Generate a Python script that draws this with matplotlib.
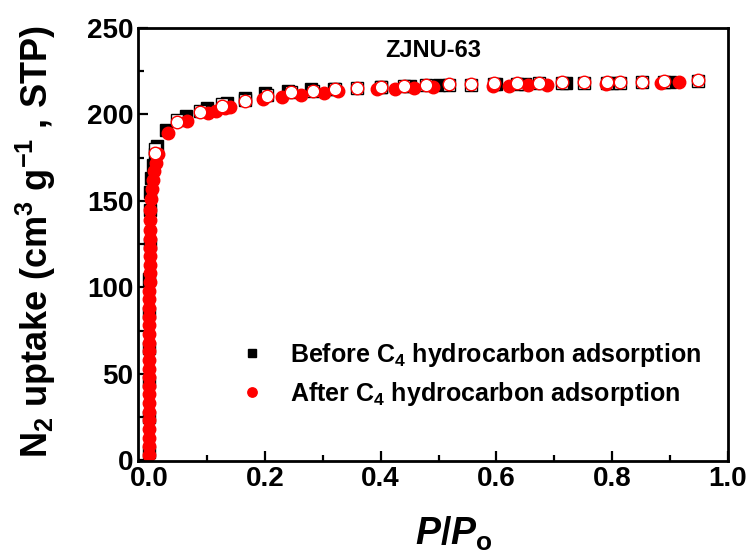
import matplotlib
matplotlib.use("Agg")
import matplotlib.pyplot as plt
from matplotlib.ticker import MultipleLocator

plt.rcParams["font.family"] = ["Liberation Sans", "DejaVu Sans"]
plt.rcParams["font.weight"] = "bold"
plt.rcParams["axes.labelweight"] = "bold"
plt.rcParams["mathtext.fontset"] = "custom"
plt.rcParams["mathtext.rm"] = "Liberation Sans:bold"
plt.rcParams["mathtext.it"] = "Liberation Sans:bold:italic"
plt.rcParams["mathtext.bf"] = "Liberation Sans:bold"

# N2 isotherms at 77 K, ZJNU-63 before / after C4 hydrocarbon adsorption
before_ads_p = [0.0003, 0.0004, 0.0005, 0.0006, 0.0007, 0.0008, 0.0009, 0.001,
                0.002, 0.004, 0.007, 0.010, 0.014, 0.030, 0.063, 0.100, 0.135,
                0.165, 0.200, 0.240, 0.280, 0.320, 0.400, 0.450, 0.500, 0.600,
                0.650, 0.720, 0.800, 0.900]
before_ads_n = [5, 25, 45, 65, 85, 105, 125, 145,
                155, 163, 171, 177, 182, 191, 199, 204, 206.5,
                209.5, 212.5, 213.5, 214.5, 215.0, 216.0, 216.5, 217.0, 217.5,
                217.8, 218.0, 218.3, 218.5]

before_des_p = [0.948, 0.890, 0.851, 0.813, 0.791, 0.752, 0.713, 0.674, 0.635,
                0.595, 0.556, 0.518, 0.479, 0.440, 0.400, 0.360, 0.322, 0.283,
                0.245, 0.204, 0.166, 0.126, 0.088, 0.049, 0.010]
before_des_n = [219.2, 218.9, 218.6, 218.4, 218.4, 218.4, 218.2, 217.9, 217.7,
                217.5, 217.3, 217.1, 216.8, 216.4, 215.6, 215.2, 214.6, 213.8,
                213.0, 211.0, 208.5, 206.0, 202.0, 196.5, 180.0]

after_ads_p = [0.0002, 0.0002, 0.0003, 0.0003, 0.0003, 0.0004, 0.0004, 0.0004,
               0.0005, 0.0005, 0.0005, 0.0006, 0.0006, 0.0006, 0.0007, 0.0007,
               0.0007, 0.0008, 0.0008, 0.0008, 0.0009, 0.0009, 0.0010, 0.0010,
               0.0011, 0.0012, 0.0013, 0.0015, 0.0020, 0.0030, 0.0045, 0.0065,
               0.0090, 0.0120, 0.0160, 0.032, 0.065, 0.101, 0.115, 0.132, 0.140,
               0.197, 0.230, 0.263, 0.302, 0.326, 0.393, 0.425, 0.457, 0.490,
               0.594, 0.621, 0.654, 0.688, 0.789, 0.884, 0.916]
after_ads_n = [3, 8, 13, 18, 23, 28, 33, 38,
               43, 48, 53, 58, 63, 68, 73, 78,
               83, 88, 93, 98, 103, 108, 113, 118,
               123, 128, 133, 139, 145, 151, 157, 162,
               167, 172, 177, 189.0, 196.0, 201.0, 202.0, 203.5, 204.5,
               208.7, 210.2, 211.2, 212.6, 213.5, 214.5, 214.7, 215.2, 215.6,
               216.3, 216.7, 217.0, 217.3, 217.8, 218.2, 218.6]

after_des_p = [0.948, 0.890, 0.851, 0.813, 0.791, 0.752, 0.713, 0.674, 0.635,
               0.595, 0.556, 0.518, 0.479, 0.440, 0.400, 0.360, 0.322, 0.283,
               0.245, 0.204, 0.166, 0.126, 0.088, 0.049, 0.010]
after_des_n = [219.8, 219.5, 219.0, 218.9, 218.9, 218.9, 218.7, 218.3, 218.1,
               217.9, 217.7, 217.5, 217.1, 216.7, 215.8, 215.4, 214.8, 213.8,
               212.9, 210.6, 207.8, 205.0, 201.2, 195.4, 177.5]

fig = plt.figure(figsize=(7.53, 5.59), dpi=100)
ax = fig.add_axes([0.1833, 0.1753, 0.7835, 0.7746])

ax.plot(before_ads_p, before_ads_n, "s", color="black", ms=8,
        label=r"Before C$_4$ hydrocarbon adsorption")
ax.plot(before_des_p, before_des_n, "s", mfc="white", mec="black", mew=1.0,
        ms=8, label="_nolegend_")
ax.plot(after_ads_p, after_ads_n, "o", color="red", ms=9,
        label=r"After C$_4$ hydrocarbon adsorption")
ax.plot(after_des_p, after_des_n, "o", mfc="white", mec="red", mew=1.0,
        ms=9, label="_nolegend_")

ax.set_xlim(-0.019, 1.0)
ax.set_ylim(-0.5, 250)
ax.xaxis.set_major_locator(MultipleLocator(0.2))
ax.xaxis.set_minor_locator(MultipleLocator(0.1))
ax.yaxis.set_major_locator(MultipleLocator(50))
ax.yaxis.set_minor_locator(MultipleLocator(25))
ax.tick_params(which="both", direction="in", top=False, right=False,
               labelsize=20, width=1.6)
ax.tick_params(which="major", length=7)
ax.tick_params(which="minor", length=4)
ax.xaxis.set_major_formatter(plt.FormatStrFormatter("%.1f"))
for spine in ax.spines.values():
    spine.set_linewidth(2)

ax.set_xlabel(r"$P$/$P_{\rm o}$", fontsize=27)
ax.xaxis.set_label_coords(0.535, -0.125)
ax.set_ylabel(r"N$_2$ uptake (cm$^3$ g$^{-1}$ , STP)", fontsize=26)
ax.yaxis.set_label_coords(-0.135, 0.506)
ax.text(0.5, 0.948, "ZJNU-63", transform=ax.transAxes, ha="center",
        va="center", fontsize=17, fontweight="bold")

ax.legend(loc="center left", bbox_to_anchor=(0.13, 0.2), frameon=False,
          fontsize=18, markerscale=0.75, handlelength=1.2,
          handletextpad=0.9, labelspacing=0.45)

fig.savefig("out.png", dpi=100)
